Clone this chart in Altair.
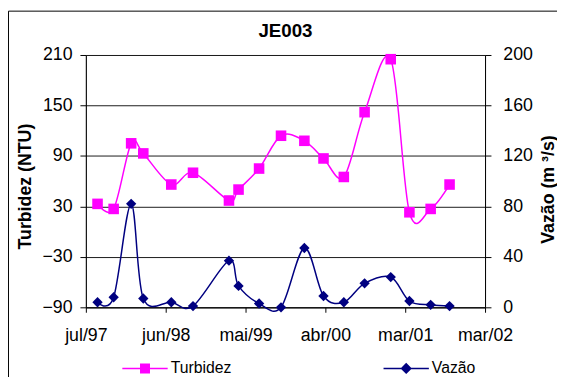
import altair as alt
import pandas as pd

# ---- data ----
dates = ["1997-08-20", "1997-10-28", "1998-01-11", "1998-03-04", "1998-07-02",
         "1998-10-03", "1999-03-06", "1999-04-16", "1999-07-13", "1999-10-15",
         "2000-01-23", "2000-04-14", "2000-07-10", "2000-10-07", "2001-01-27",
         "2001-04-17", "2001-07-17", "2001-10-06"]
turbidez = [33, 27, 105, 93, 56, 70, 37, 50, 75, 114, 108, 87, 65, 142, 205, 23, 27, 56]
vazao = [4, 8, 82, 7, 4, 1, 37, 17, 3, 0, 47, 9, 4, 19, 24, 5, 2, 1]

series = ["Turbidez", "Vazão"]
colors = ["#FF00FF", "#000080"]

x_tick_dates = ["1997-07-01", "1998-06-08", "1999-05-16", "2000-04-22", "2001-03-30", "2002-03-07"]
x_tick_labels = ["jul/97", "jun/98", "mai/99", "abr/00", "mar/01", "mar/02"]
left_ticks = [-90, -30, 30, 90, 150, 210]
right_ticks = [0, 40, 80, 120, 160, 200]

FONT = "Liberation Sans"

df = pd.DataFrame({"data": dates, "Turbidez": turbidez, "Vazao": vazao})


def ms(s):
    return int(pd.Timestamp(s, tz="UTC").timestamp() * 1000)


tick_ms = [ms(d) for d in x_tick_dates]
label_expr = " : ".join(
    f"time(datum.value) == {t} ? '{l}'" for t, l in zip(tick_ms, x_tick_labels)
) + " : ''"

x_enc = alt.X(
    "data:T",
    scale=alt.Scale(type="utc", domain=[tick_ms[0], tick_ms[-1]], nice=False),
    axis=alt.Axis(
        values=tick_ms, labelExpr=label_expr, title=None, grid=False,
        labelFont=FONT, labelFontSize=18, labelColor="black",
        tickSize=5, tickColor="black", domainColor="black",
        labelPadding=15, labelFlush=False, labelOverlap=False,
    ),
)

left_axis = alt.Axis(
    orient="left", values=left_ticks, title="Turbidez (NTU)",
    titleFont=FONT, titleFontSize=18, titleFontWeight="bold", titleColor="black",
    titlePadding=8, titleY=133,
    labelFont=FONT, labelFontSize=18, labelColor="black", labelPadding=8,
    tickSize=6, tickColor="black", domainColor="black",
    grid=True, gridColor="#1a1a1a", gridWidth=1,
)
right_axis = alt.Axis(
    orient="right", values=right_ticks, title="Vazão (m ³/s)",
    titleFont=FONT, titleFontSize=18, titleFontWeight="bold", titleColor="black",
    titleAngle=270, titleBaseline="top", titlePadding=7, titleY=136,
    labelFont=FONT, labelFontSize=18, labelColor="black", labelPadding=12,
    tickSize=6, tickColor="black", domainColor="black", grid=False,
)

y_left = alt.Y("Turbidez:Q", scale=alt.Scale(domain=[-90, 210], nice=False, zero=False), axis=left_axis)
y_right = alt.Y("Vazao:Q", scale=alt.Scale(domain=[0, 200], nice=False), axis=right_axis)

base = alt.Chart(df)
turb = alt.layer(
    base.mark_line(color=colors[0], strokeWidth=1.5, interpolate="cardinal").encode(x=x_enc, y=y_left),
    base.mark_point(shape="square", filled=True, size=115, color=colors[0], opacity=1).encode(x=x_enc, y=y_left),
)
vaz = alt.layer(
    base.mark_line(color=colors[1], strokeWidth=1.5, interpolate="cardinal").encode(x=x_enc, y=y_right),
    base.mark_point(shape="diamond", filled=True, size=110, color=colors[1], opacity=1).encode(x=x_enc, y=y_right),
)

# legend symbols: line segment + marker
sym_paths = [
    "M-1,-0.033H1V0.033H-1Z M-0.22,-0.22H0.22V0.22H-0.22Z",
    "M-1,-0.033H1V0.033H-1Z M0,-0.25L0.25,0L0,0.25L-0.25,0Z",
]
leg = alt.Legend(
    title=None, orient="none", legendX=37, legendY=295, direction="horizontal",
    columnPadding=154, labelFont=FONT, labelFontSize=16, labelColor="black",
    symbolOpacity=1, symbolSize=2116, symbolStrokeWidth=0, labelOffset=3,
    padding=0, rowPadding=0,
)
legend_layer = alt.Chart(pd.DataFrame({"serie": series})).mark_point(
    filled=True, opacity=0, size=2116
).encode(
    color=alt.Color("serie:N", scale=alt.Scale(domain=series, range=colors), legend=leg),
    shape=alt.Shape("serie:N", scale=alt.Scale(domain=series, range=sym_paths), legend=leg),
)

# chart-area border (only its left and top edges are inside the picture)
one = pd.DataFrame({"a": [0]})
frame_left = alt.Chart(one).mark_rule(color="black", strokeWidth=1).encode(
    x=alt.value(-78.5), y=alt.value(-44.5), y2=alt.value(400)
)
frame_top = alt.Chart(one).mark_rule(color="black", strokeWidth=1).encode(
    x=alt.value(-78.5), x2=alt.value(600), y=alt.value(-44.5)
)

chart = alt.layer(frame_left, frame_top, turb, vaz, legend_layer).resolve_scale(
    y="independent"
).properties(
    width=405, height=256,
    padding={"left": 79, "top": 45, "right": 73, "bottom": 68},
    autosize=alt.AutoSizeParams(type="none"),
    title=alt.TitleParams("JE003", font=FONT, fontSize=19, fontWeight="bold",
                          color="black", anchor="middle", frame="group", offset=6, dy=37),
    background="white",
).configure_view(
    fill="#EDFDFD", stroke="#808080", strokeWidth=1
)

chart.save("out.html", embed_options={"renderer": "svg", "actions": False})
